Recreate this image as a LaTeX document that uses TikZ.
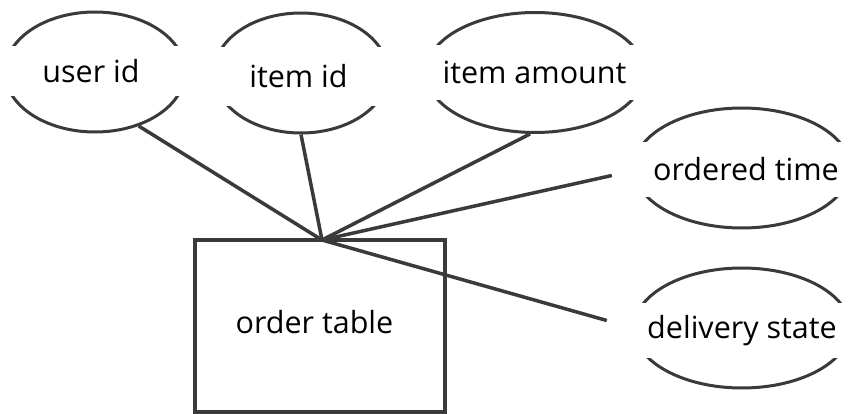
\documentclass[tikz,border=0pt]{standalone}
\usepackage{fontspec}
\setmainfont{Open Sans}
\usetikzlibrary{shapes.geometric}
\definecolor{ink}{HTML}{3A3A3A}
\tikzset{
  attr/.style={draw=ink, line width=3pt, ellipse, inner sep=0pt, minimum height=120pt},
  band/.style={fill=white, inner sep=0pt, font=\fontsize{30.5}{36}\selectfont, text=black},
  link/.style={draw=ink, line width=3.5pt},
  entity/.style={draw=ink, line width=4pt, rectangle, inner sep=0pt}
}
\begin{document}
\begin{tikzpicture}[x=1pt, y=-1pt]
\useasboundingbox[fill=white] (0,0) rectangle (849,414);

% attribute ellipses
\node[attr, minimum width=180pt] (uid) at (95,72) {};
\node[attr, minimum width=174pt] (iid) at (301,73) {};
\node[attr, minimum width=218pt] (iam) at (535,72.5) {};
\node[attr, minimum width=216pt] (otm) at (742,168) {};
\node[attr, minimum width=216pt] (dst) at (742,328) {};

% entity box
\node[entity, minimum width=250pt, minimum height=172pt] (ord) at (320,326) {};
\coordinate (hub) at (322,240);

% connectors
\draw[link] (uid.-51) -- (hub);
\draw[link] (iid.south) -- (hub);
\draw[link] ([xshift=-5pt]iam.south) -- (hub);

% text bands over the ellipse sides
\node[band, minimum width=200pt, minimum height=50pt] (uidt) at (91,71) {user id};
\node[band, minimum width=196pt, minimum height=59pt] (iidt) at (298.5,76.5) {item id};
\node[band, minimum width=232pt, minimum height=55pt] (iamt) at (534.5,72.5) {item amount};
\node[band, minimum width=268pt, minimum height=55pt] (otmt) at (746,169.5) {ordered time};
\node[band, minimum width=270pt, minimum height=55pt] (dstt) at (742,330.5) {delivery state};

\draw[link] ([yshift=-6pt]otmt.west) -- (hub);
\draw[link] ([yshift=10pt]dstt.west) -- (hub);

\node[font=\fontsize{30.5}{36}\selectfont, text=black] (ordt) at (314.5,322) {order table};
\end{tikzpicture}
\end{document}
